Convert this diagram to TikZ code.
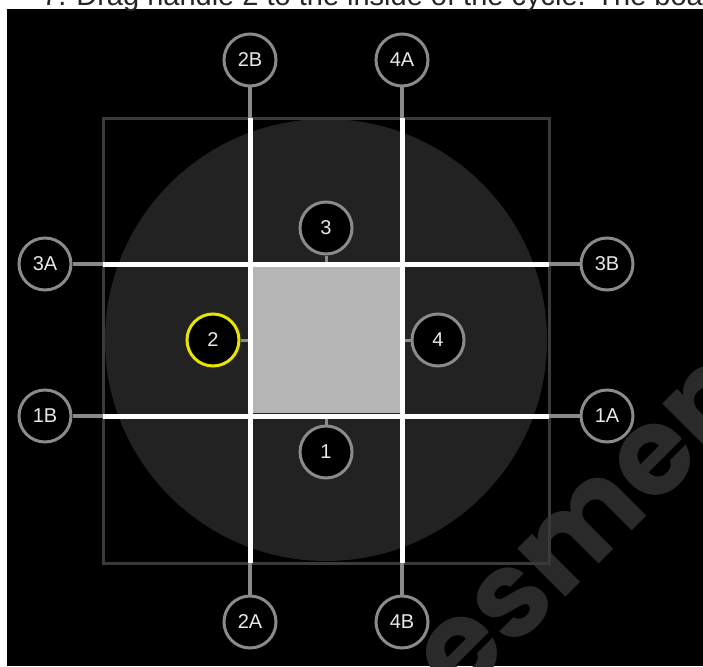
\documentclass[tikz,border=0pt]{standalone}
\usepackage{fontspec}
\setmainfont{Liberation Sans}
\newfontfamily\wmfont{Poppins}
\definecolor{ringgray}{RGB}{138,138,138}
\definecolor{boxgray}{RGB}{58,58,58}
\definecolor{discgray}{RGB}{34,34,34}
\definecolor{padgray}{RGB}{181,181,181}
\definecolor{labelwhite}{RGB}{232,232,232}
\definecolor{selyellow}{RGB}{232,228,0}
\definecolor{markgray}{RGB}{42,42,42}
\pgfdeclarelayer{bg}
\pgfdeclarelayer{lines}
\pgfdeclarelayer{top}
\pgfsetlayers{bg,lines,main,top}
\begin{document}
\begin{tikzpicture}[x=1pt,y=-1pt,
  handle/.style={circle,minimum size=52pt,inner sep=0pt,draw=ringgray,line width=3pt,fill=black,
    text=labelwhite,font=\fontsize{20}{20}\selectfont},
  selhandle/.style={handle,draw=selyellow},
  stub/.style={draw=ringgray,line width=4pt},
  thinstub/.style={draw=ringgray,line width=3pt},
  bar/.style={draw=white,line width=5pt},
  wm/.style={rotate=45,inner sep=0pt,text=markgray,font=\wmfont\bfseries\fontsize{122}{122}\selectfont}]
\useasboundingbox (0,0) rectangle (703,666);
\begin{pgfonlayer}{bg}
\fill[white] (0,0) rectangle (703,666);
\fill[black] (7,9) rectangle (703,666);
% watermark, under the drawing
\node[wm,anchor=center] (wmM) at (582,532) {m};
\node[wm,anchor=base east] (wmA) at (wmM.base west) {Asses};
\node[wm,anchor=base west] (wmB) at (wmM.base east) {ent};
\fill[discgray] (326,340) circle (221);
\draw[boxgray,line width=3pt] (103,118) rectangle (549,563);
\fill[padgray] (252,267) rectangle (400,413);
\end{pgfonlayer}
% header text, partly cut by the page edge
\node[anchor=base west,inner sep=0pt,text=black!85,font=\fontsize{29}{29}\selectfont] (hdr) at (42,6)
  {7.\hspace{10pt}Drag handle 2 to the inside of the cycle. The board};
% outer handles
\node[handle] (h2B) at (250,60) {2B};
\node[handle] (h4A) at (402,60) {4A};
\node[handle] (h2A) at (250,622) {2A};
\node[handle] (h4B) at (402,622) {4B};
\node[handle] (h3A) at (45,264) {3A};
\node[handle] (h3B) at (607,264) {3B};
\node[handle] (h1B) at (45,416) {1B};
\node[handle] (h1A) at (607,416) {1A};
% inner handles
\node[handle] (h3) at (326,228) {3};
\node[selhandle] (h2) at (213,340) {2};
\node[handle] (h4) at (438,340) {4};
\node[handle] (h1) at (326,452) {1};
% crossing points on the frame and the pad
\coordinate (t1) at (250,118); \coordinate (b1) at (250,563);
\coordinate (t2) at (402,118); \coordinate (b2) at (402,563);
\coordinate (l1) at (103,264); \coordinate (r1) at (549,264);
\coordinate (l2) at (103,416); \coordinate (r2) at (549,416);
\coordinate (p3) at (326,264); \coordinate (p1) at (326,416);
\coordinate (p2) at (250,340); \coordinate (p4) at (402,340);
\begin{pgfonlayer}{lines}
\path[stub] (h2B) -- (t1) (h2A) -- (b1) (h4A) -- (t2) (h4B) -- (b2)
  (h3A) -- (l1) (h3B) -- (r1) (h1B) -- (l2) (h1A) -- (r2);
\path[thinstub] (h3) -- (p3) (h1) -- (p1) (h2) -- (p2) (h4) -- (p4);
\path[bar] (t1) -- (b1) (t2) -- (b2) (l1) -- (r1) (l2) -- (r2);
\end{pgfonlayer}
\end{tikzpicture}
\end{document}
